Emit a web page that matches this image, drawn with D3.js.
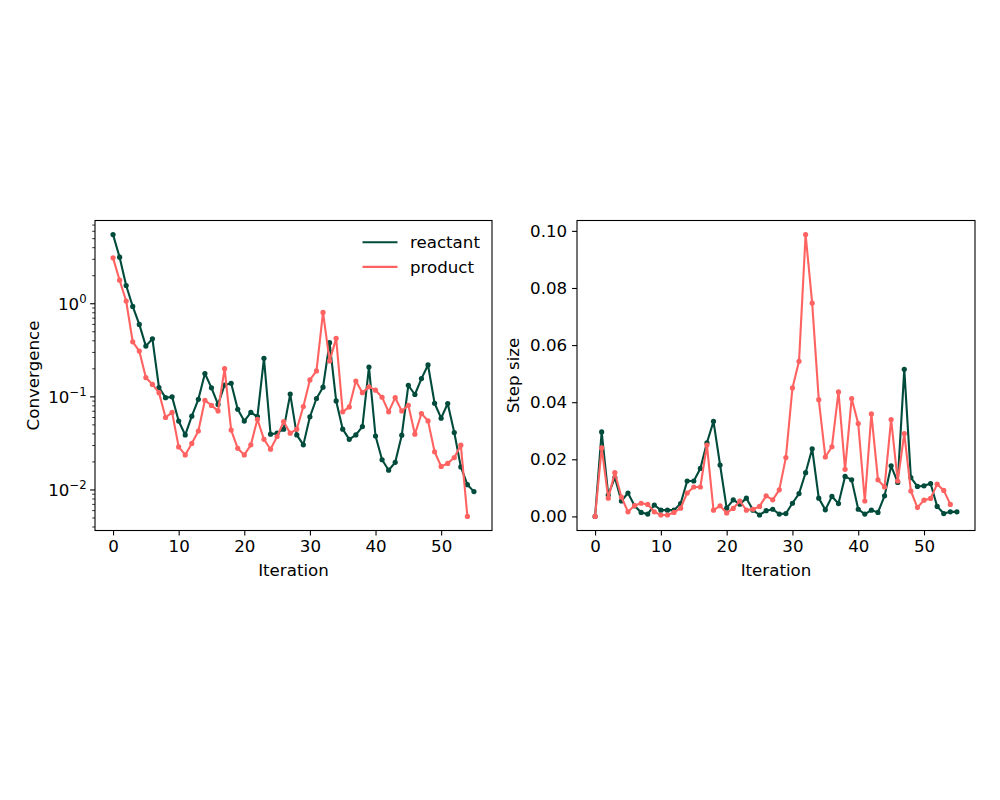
<!DOCTYPE html>
<html>
<head>
<meta charset="utf-8">
<script src="https://cdn.jsdelivr.net/npm/d3@7"></script>
<style>
  body { margin: 0; background: #fff; }
  text { font-family: "DejaVu Sans", sans-serif; }
</style>
</head>
<body>
<div id="chart"></div>
<script>
// convergence per iteration (log scale)
const reactantConv = [5.53, 3.16, 1.57, 0.935, 0.60, 0.351, 0.42, 0.126, 0.098, 0.10,
  0.055, 0.039, 0.062, 0.094, 0.178, 0.125, 0.083, 0.134, 0.14, 0.0736,
  0.055, 0.068, 0.0615, 0.259, 0.0397, 0.0407, 0.045, 0.107, 0.039, 0.0305,
  0.061, 0.096, 0.127, 0.382, 0.0904, 0.045, 0.035, 0.039, 0.048, 0.209,
  0.038, 0.0211, 0.0163, 0.0198, 0.0388, 0.133, 0.106, 0.157, 0.22, 0.0854,
  0.059, 0.0848, 0.0414, 0.0177, 0.0114, 0.0096];
const productConv = [3.11, 1.79, 1.07, 0.39, 0.31, 0.161, 0.136, 0.111, 0.06, 0.068,
  0.029, 0.0238, 0.0316, 0.043, 0.092, 0.081, 0.0707, 0.201, 0.044, 0.028,
  0.0238, 0.0305, 0.0575, 0.035, 0.0274, 0.0375, 0.0543, 0.0407, 0.045, 0.0787,
  0.152, 0.19, 0.807, 0.243, 0.425, 0.069, 0.078, 0.148, 0.111, 0.128,
  0.118, 0.099, 0.069, 0.098, 0.0706, 0.0813, 0.0397, 0.0662, 0.0552, 0.0257,
  0.0179, 0.0193, 0.0223, 0.0303, 0.0052];

// step size per iteration
const reactantStep = [0, 0.0296, 0.0075, 0.0136, 0.0054, 0.0082, 0.0037, 0.0014, 0.0008, 0.004,
  0.0022, 0.0022, 0.0022, 0.0045, 0.0124, 0.0124, 0.0168, 0.0258, 0.0333, 0.018,
  0.0029, 0.0058, 0.0043, 0.0064, 0.0022, 0.0005, 0.002, 0.0025, 0.0008, 0.001,
  0.0046, 0.008, 0.0153, 0.0237, 0.0064, 0.0023, 0.007, 0.0045, 0.014, 0.0128,
  0.0025, 0.0008, 0.0022, 0.0014, 0.0072, 0.0177, 0.0119, 0.0515, 0.0136, 0.0105,
  0.0107, 0.0115, 0.0035, 0.001, 0.0016, 0.0016];
const productStep = [0, 0.024, 0.0064, 0.0153, 0.0068, 0.0016, 0.0038, 0.0046, 0.0042, 0.0016,
  0.0005, 0.0005, 0.0014, 0.0029, 0.0082, 0.0103, 0.0103, 0.025, 0.0022, 0.0037,
  0.0012, 0.0028, 0.0054, 0.0022, 0.0025, 0.0035, 0.0072, 0.0058, 0.0093, 0.0206,
  0.045, 0.0543, 0.0987, 0.0747, 0.0409, 0.0208, 0.0244, 0.0436, 0.0165, 0.0413,
  0.0325, 0.0054, 0.0359, 0.0128, 0.0103, 0.0339, 0.0124, 0.029, 0.0089, 0.0031,
  0.0057, 0.0063, 0.0113, 0.0091, 0.0042];

const seriesNames = ["reactant", "product"];
const xTicks = [0, 10, 20, 30, 40, 50];
const stepTicks = [0, 0.02, 0.04, 0.06, 0.08, 0.10];
const logTicks = [-2, -1, 0];

const colors = { reactant: "#004b3b", product: "#ff6361" };
const fs = 16.67;

const svg = d3.select("#chart").append("svg")
  .attr("width", 1000).attr("height", 800);

const yTop = 220.5, yBottom = 530.5;
const panels = [
  { left: 95, right: 492, log: true, data: [reactantConv, productConv], label: "Convergence" },
  { left: 577, right: 975, log: false, data: [reactantStep, productStep], label: "Step size" }
];

function drawPanel(p) {
  const g = svg.append("g");
  const n = d3.max(p.data, d => d.length) - 1;
  const x = d3.scaleLinear().domain([-0.05 * n, n * 1.05]).range([p.left, p.right]);
  const all = p.data.flat();
  let y;
  if (p.log) {
    const lo = Math.log10(d3.min(all)), hi = Math.log10(d3.max(all));
    const m = 0.05 * (hi - lo);
    y = d3.scaleLog().domain([10 ** (lo - m), 10 ** (hi + m)]).range([yBottom, yTop]);
  } else {
    const lo = d3.min(all), hi = d3.max(all);
    const m = 0.05 * (hi - lo);
    y = d3.scaleLinear().domain([lo - m, hi + m]).range([yBottom, yTop]);
  }

  // x axis
  const xa = g.append("g").attr("transform", `translate(0,${yBottom})`)
    .call(d3.axisBottom(x).tickValues(xTicks).tickFormat(d3.format("d"))
      .tickSize(4.9).tickSizeOuter(0).tickPadding(4.9));
  xa.select(".domain").remove();
  xa.selectAll("line").attr("stroke", "#000").attr("stroke-width", 1.1);
  xa.selectAll("text").attr("font-size", fs).attr("fill", "#000")
    .attr("font-family", "DejaVu Sans");

  // y axis
  const ya = g.append("g").attr("transform", `translate(${p.left},0)`);
  if (p.log) {
    const [d0, d1] = y.domain();
    const minor = [];
    for (let e = Math.floor(Math.log10(d0)); e <= Math.ceil(Math.log10(d1)); e++) {
      for (let k = 2; k <= 9; k++) {
        const v = k * 10 ** e;
        if (v >= d0 && v <= d1) minor.push(v);
      }
    }
    ya.selectAll("line.minor").data(minor).join("line")
      .attr("x1", -2.8).attr("x2", 0)
      .attr("y1", d => y(d)).attr("y2", d => y(d))
      .attr("stroke", "#000").attr("stroke-width", 0.8);
    ya.selectAll("line.major").data(logTicks).join("line")
      .attr("x1", -4.9).attr("x2", 0)
      .attr("y1", d => y(10 ** d)).attr("y2", d => y(10 ** d))
      .attr("stroke", "#000").attr("stroke-width", 1.1);
    const lbl = ya.selectAll("text.tick").data(logTicks).join("text")
      .attr("text-anchor", "end")
      .attr("x", -8.4)
      .attr("y", d => y(10 ** d) + 6)
      .attr("font-size", fs).attr("fill", "#000");
    lbl.append("tspan").text("10");
    lbl.append("tspan").attr("dy", -7).attr("font-size", fs * 0.7)
      .text(d => d === 0 ? "0" : "\u2212" + Math.abs(d));
  } else {
    ya.call(d3.axisLeft(y).tickValues(stepTicks).tickFormat(d3.format(".2f"))
      .tickSize(4.9).tickSizeOuter(0).tickPadding(4.9));
    ya.select(".domain").remove();
    ya.selectAll("line").attr("stroke", "#000").attr("stroke-width", 1.1);
    ya.selectAll("text").attr("font-size", fs).attr("fill", "#000")
      .attr("font-family", "DejaVu Sans");
  }

  // axis labels
  g.append("text").attr("x", (p.left + p.right) / 2).attr("y", 576)
    .attr("text-anchor", "middle").attr("font-size", fs).text("Iteration");
  const lx = p.log ? 33 : 513;
  g.append("text")
    .attr("transform", `translate(${lx},${(yTop + yBottom) / 2}) rotate(-90)`)
    .attr("text-anchor", "middle").attr("dy", "0.35em")
    .attr("font-size", fs).text(p.label);

  // series
  const line = d3.line().x((d, i) => x(i)).y(d => y(d));
  p.data.forEach((arr, si) => {
    const c = colors[seriesNames[si]];
    g.append("path").datum(arr).attr("d", line)
      .attr("fill", "none").attr("stroke", c).attr("stroke-width", 2.1)
      .attr("stroke-linejoin", "round");
    g.selectAll(null).data(arr).join("circle")
      .attr("cx", (d, i) => x(i)).attr("cy", d => y(d))
      .attr("r", 2.6).attr("fill", c);
  });

  // frame
  g.append("rect").attr("x", p.left).attr("y", yTop)
    .attr("width", p.right - p.left).attr("height", yBottom - yTop)
    .attr("fill", "none").attr("stroke", "#000").attr("stroke-width", 1.1);

  return g;
}

const gLeft = drawPanel(panels[0]);
drawPanel(panels[1]);

// legend in left panel
const legend = gLeft.append("g");
seriesNames.forEach((name, i) => {
  const ly = 242.3 + i * 24.6;
  legend.append("line").attr("x1", 362.5).attr("x2", 397.5)
    .attr("y1", ly).attr("y2", ly)
    .attr("stroke", colors[name]).attr("stroke-width", 2.1);
  legend.append("text").attr("x", 410).attr("y", ly).attr("dy", "0.35em")
    .attr("font-size", fs).attr("fill", "#000").text(name);
});
</script>
</body>
</html>
